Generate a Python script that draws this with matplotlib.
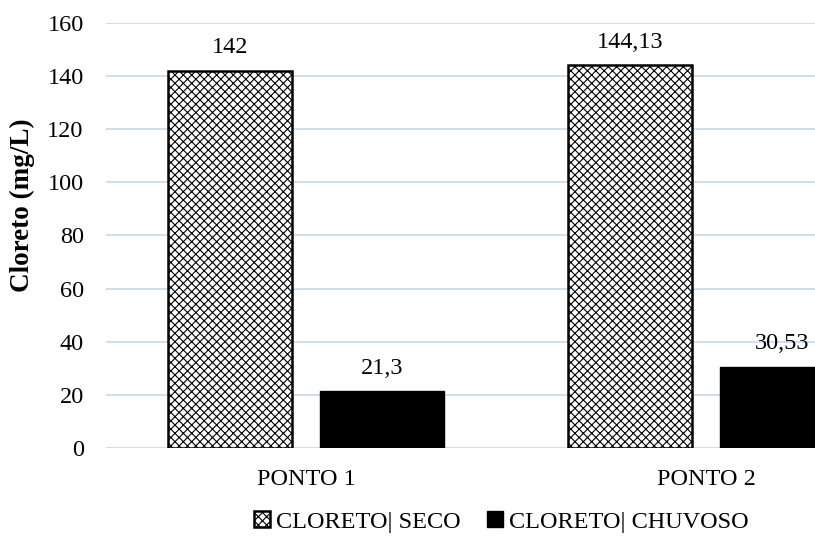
import matplotlib.pyplot as plt
import numpy as np

plt.rcParams['font.family'] = ['Liberation Serif', 'DejaVu Serif']
plt.rcParams['hatch.linewidth'] = 0.8

categorias = ['PONTO 1', 'PONTO 2']
seco = [142, 144.13]
chuvoso = [21.3, 30.53]
rotulos_seco = ['142', '144,13']
rotulos_chuvoso = ['21,3', '30,53']


def main():
    fig = plt.figure(figsize=(8.15, 5.46), dpi=100)
    ax = fig.add_axes([0.130, 0.1795, 0.87, 0.7785])

    x = np.arange(len(categorias))
    largura = 0.31
    desloc = 0.19
    fs = 17.5

    b1 = ax.bar(x - desloc, seco, largura, color='white', edgecolor='black',
                linewidth=1.8, hatch='xxxx', label='CLORETO| SECO', zorder=3)
    b2 = ax.bar(x + desloc, chuvoso, largura, color='black', edgecolor='black',
                label='CLORETO| CHUVOSO', zorder=3)

    # rótulos de dados
    for barras, textos in ((b1, rotulos_seco), (b2, rotulos_chuvoso)):
        for barra, txt in zip(barras, textos):
            ax.annotate(txt, (barra.get_x() + barra.get_width() / 2, barra.get_height()),
                        xytext=(0, 9), textcoords='offset points', ha='center',
                        va='bottom', fontsize=fs)

    ax.set_xlim(-0.5, 1.2725)
    ax.set_ylim(0, 160)
    ax.set_yticks(np.arange(0, 161, 20))
    ax.set_xticks(x)
    ax.set_xticklabels(categorias)
    ax.tick_params(axis='both', length=0, labelsize=fs)
    ax.tick_params(axis='x', pad=15)
    ax.tick_params(axis='y', pad=16)
    ax.yaxis.grid(True, color='#c6d9f0', linewidth=1.2, zorder=0)
    for s in ax.spines.values():
        s.set_visible(False)
    ax.set_ylabel('Cloreto (mg/L)', fontsize=19.5, fontweight='bold',
                  va='center', ha='center')
    ax.yaxis.set_label_coords(-0.118, 0.572)

    fig.legend(loc='lower center', bbox_to_anchor=(0.615, -0.016), ncol=2,
               frameon=False, fontsize=fs, handlelength=0.65, handleheight=0.65,
               handletextpad=0.25, columnspacing=1.1)

    fig.savefig('out.png', dpi=100)


if __name__ == "__main__":
    main()
